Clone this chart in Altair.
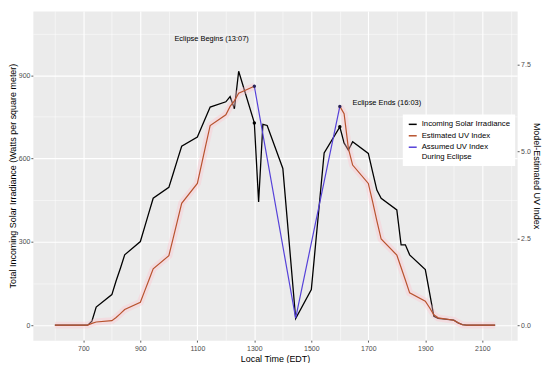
import altair as alt
import pandas as pd

FONT = "Liberation Sans"

# ---- data ----
times = [600, 615, 630, 645, 700, 715, 730, 745, 800, 815, 830, 845,
         900, 915, 930, 945, 1000, 1015, 1030, 1045, 1100, 1115, 1130, 1145,
         1200, 1215, 1230, 1245, 1300, 1315, 1330, 1345, 1400, 1415, 1430, 1445,
         1500, 1515, 1530, 1545, 1600, 1615, 1630, 1645, 1700, 1715, 1730, 1745,
         1800, 1815, 1830, 1845, 1900, 1915, 1930, 1945, 2000, 2015, 2030, 2045,
         2100, 2115, 2130, 2145]

irradiance = [0, 0, 0, 0, 0, 0, 14, 65, 110, 160, 205, 253,
              301, 353, 405, 457, 496, 545, 595, 644, 677, 713, 749, 785,
              804, 823, 779, 914, 728, 443, 723, 719, 564, 385, 205, 24,
              128, 292, 456, 620, 714, 656, 630, 660, 618, 552, 486, 457,
              415, 289, 289, 253, 200, 116, 32, 24, 18, 8, 2, 0,
              0, 0, 0, 0]

uv_am_times = [600, 615, 630, 645, 700, 715, 730, 745, 800, 815, 830, 845,
               900, 915, 930, 945, 1000, 1015, 1030, 1045, 1100, 1115, 1130, 1145,
               1200, 1215, 1230, 1245, 1300]
uv_am = [0, 0, 0, 0, 0, 0, 0.05, 0.09, 0.13, 0.22, 0.33, 0.45,
         0.66, 0.98, 1.3, 1.62, 2.0, 2.5, 3.0, 3.51, 4.08, 4.64, 5.2, 5.75,
         6.06, 6.3, 6.46, 6.68, 6.88]

uv_pm_times = [1600, 1615, 1630, 1645, 1700, 1715, 1730, 1745,
               1800, 1815, 1830, 1845, 1900, 1915, 1930, 1945,
               2000, 2015, 2030, 2045, 2100, 2115, 2130, 2145]
uv_pm = [6.3, 6.09, 5.09, 4.61, 4.08, 3.56, 3.0, 2.48,
         2.02, 1.66, 1.3, 0.93, 0.69, 0.5, 0.3, 0.21,
         0.14, 0.07, 0.01, 0, 0, 0, 0, 0]

eclipse_times = [1300, 1445, 1600]
eclipse_uv = [6.88, 0.2, 6.3]

marker_times = [1300, 1600]
marker_irr = [728, 714]
marker_uv = [6.88, 6.3]

ann_labels = ["Eclipse Begins (13:07)", "Eclipse Ends (16:03)"]
ann_times = [1150, 1765]
ann_values = [1030, 800]

series_names = ["Incoming Solar Irradiance", "Estimated UV Index",
                "Assumed UV Index During Eclipse"]
series_colors = ["#000000", "#b8532e", "#5541d9"]

# ---- tables ----
irr_df = pd.DataFrame({"time": times, "value": irradiance, "series": series_names[0]})
uv_df = pd.concat([
    pd.DataFrame({"time": uv_am_times, "uv": uv_am, "part": "am"}),
    pd.DataFrame({"time": uv_pm_times, "uv": uv_pm, "part": "pm"}),
])
uv_df["series"] = series_names[1]
ecl_df = pd.DataFrame({"time": eclipse_times, "uv": eclipse_uv, "series": series_names[2]})
mk_irr_df = pd.DataFrame({"time": marker_times, "value": marker_irr})
mk_uv_df = pd.DataFrame({"time": marker_times, "uv": marker_uv})
ann_df = pd.DataFrame({"label": ann_labels, "time": ann_times, "value": ann_values})

# ---- scales & axes ----
X_DOMAIN = [522.75, 2222.25]
W_DOMAIN = [-54, 1131]
UV_DOMAIN = [W_DOMAIN[0] / 125, W_DOMAIN[1] / 125]
PW, PH = 487, 331

common_axis = dict(domain=False, tickColor="#333333", tickWidth=0.8, tickSize=2,
                   labelFont=FONT, labelFontSize=7, labelColor="#4d4d4d",
                   titleFont=FONT, titleFontSize=9, titleFontWeight="normal",
                   titleColor="#000000")

x_axis = alt.Axis(
    title="Local Time (EDT)",
    values=list(range(600, 2201, 100)),
    format="d",
    labelExpr="datum.value % 200 == 100 ? datum.label : ''",
    grid=True, gridColor="white",
    gridWidth={"condition": {"test": "datum.value % 200 == 100", "value": 1.1}, "value": 0.5},
    tickOpacity={"condition": {"test": "datum.value % 200 == 100", "value": 1}, "value": 0},
    labelPadding=2, titlePadding=3,
    **common_axis)

left_axis = alt.Axis(
    title="Total Incoming Solar Irradiance (Watts per square meter)",
    orient="left",
    values=list(range(0, 1051, 150)),
    format="d",
    labelExpr="datum.value % 300 == 0 ? datum.label : ''",
    grid=True, gridColor="white",
    gridWidth={"condition": {"test": "datum.value % 300 == 0", "value": 1.1}, "value": 0.5},
    tickOpacity={"condition": {"test": "datum.value % 300 == 0", "value": 1}, "value": 0},
    labelPadding=1,
    titleAngle=270, titleX=-20.5, titleY=PH / 2, titleBaseline="middle", titleAlign="center",
    **common_axis)

right_axis = alt.Axis(
    title="Model-Estimated UV Index",
    orient="right",
    values=[0, 2.5, 5, 7.5],
    format=".1f",
    grid=False,
    labelPadding=1.5,
    titleAngle=90, titleX=19, titleY=PH / 2, titleBaseline="middle", titleAlign="center",
    **common_axis)

legend = alt.Legend(
    title=None, orient="none", legendX=372, legendY=104,
    fillColor="white", padding=5, symbolType="stroke", symbolStrokeWidth=1.5,
    symbolSize=64, labelFont=FONT, labelFontSize=7.8, labelColor="#000000",
    rowPadding=2.5,
    labelExpr="datum.label == 'Assumed UV Index During Eclipse' ? ['Assumed UV Index', 'During Eclipse'] : datum.label")

color_scale = alt.Scale(domain=series_names, range=series_colors)

x_enc = alt.X("time:Q", scale=alt.Scale(domain=X_DOMAIN, nice=False, zero=False), axis=x_axis)
y_w = alt.Y("value:Q", scale=alt.Scale(domain=W_DOMAIN, nice=False, zero=False), axis=left_axis)
y_uv = alt.Y("uv:Q", scale=alt.Scale(domain=UV_DOMAIN, nice=False, zero=False), axis=right_axis)
color_enc = alt.Color("series:N", scale=color_scale, legend=legend)

# ---- irradiance group ----
irr_line = alt.Chart(irr_df).mark_line(strokeWidth=1.3).encode(x=x_enc, y=y_w, color=color_enc)
irr_pts = alt.Chart(mk_irr_df).mark_point(filled=True, size=12, opacity=1, color="#000000").encode(x=x_enc, y=y_w)
ann = alt.Chart(ann_df).mark_text(font=FONT, fontSize=7.5, color="#000000").encode(
    x=x_enc, y=y_w, text="label:N")
group_w = alt.layer(irr_line, irr_pts, ann)

# ---- UV group ----
band = alt.Chart(uv_df).mark_line(strokeWidth=7, color="#ffc0cb", opacity=0.35).encode(
    x=x_enc, y=y_uv, detail="part:N")
uv_line = alt.Chart(uv_df).mark_line(strokeWidth=1.2).encode(
    x=x_enc, y=y_uv, color=color_enc, detail="part:N")
ecl_line = alt.Chart(ecl_df).mark_line(strokeWidth=1.2).encode(x=x_enc, y=y_uv, color=color_enc)
uv_pts = alt.Chart(mk_uv_df).mark_point(filled=True, size=12, opacity=1, color="#2a2458").encode(x=x_enc, y=y_uv)
group_uv = alt.layer(band, uv_line, ecl_line, uv_pts)

chart = alt.layer(group_w, group_uv).resolve_scale(y="independent").properties(
    width=PW, height=PH,
    padding={"left": 25, "top": 2, "right": 25, "bottom": 22},
    autosize=alt.AutoSizeParams(type="none"),
    background="white",
).configure_view(fill="#EBEBEB", stroke="transparent")

chart.save("out.html", embed_options={"renderer": "svg", "actions": False})
